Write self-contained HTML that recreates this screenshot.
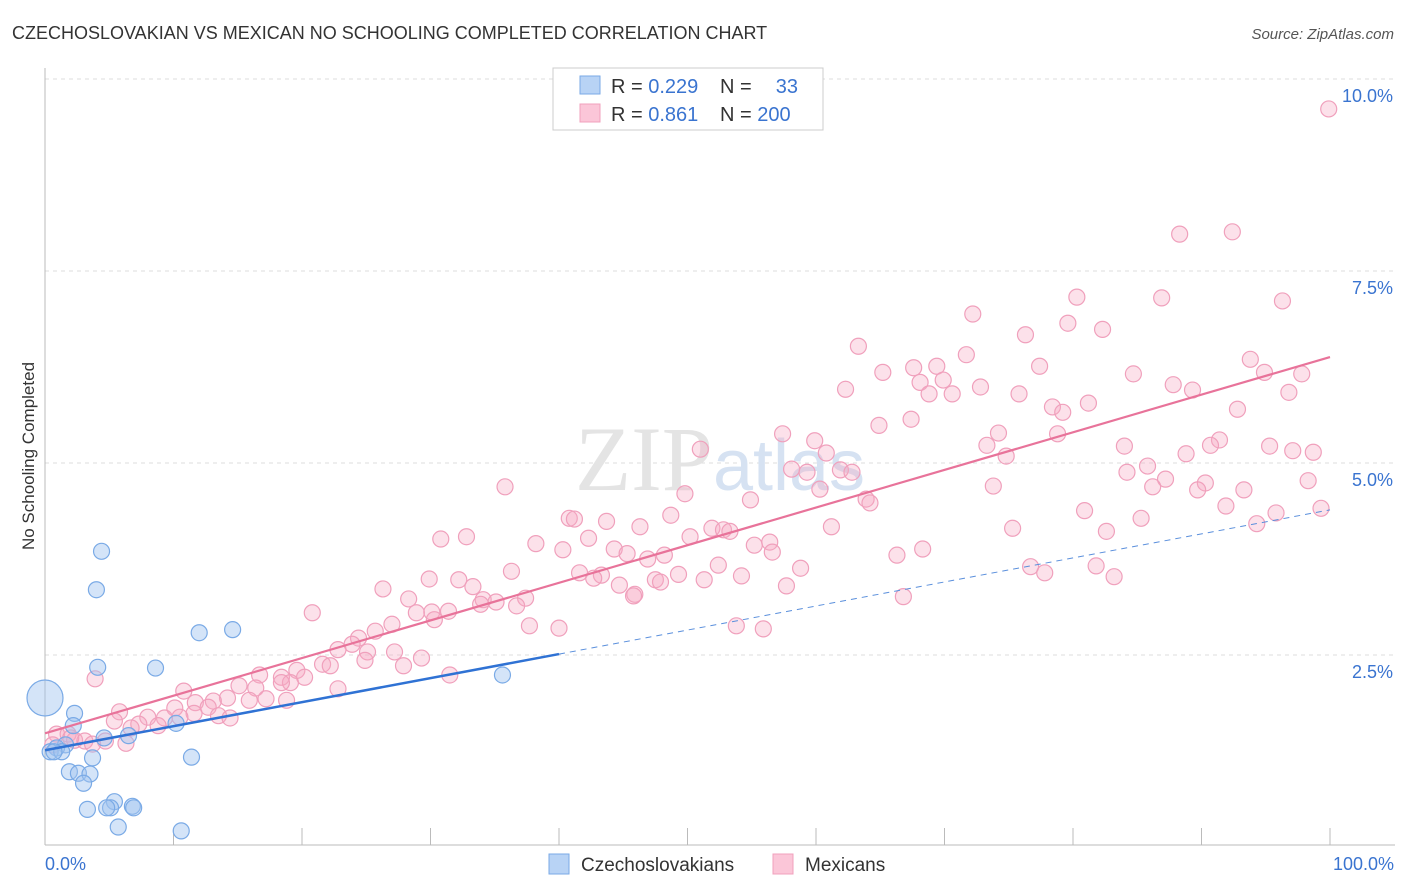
<!DOCTYPE html>
<html><head><meta charset="utf-8"><style>
body{margin:0;background:#fff;font-family:"Liberation Sans",sans-serif;}
svg{display:block}
</style></head><body>
<svg id="chart" width="1406" height="892" viewBox="0 0 1406 892" xmlns="http://www.w3.org/2000/svg">
<text x="12" y="39" font-size="18" fill="#333" font-family="Liberation Sans, sans-serif">CZECHOSLOVAKIAN VS MEXICAN NO SCHOOLING COMPLETED CORRELATION CHART</text>
<text x="1394" y="39" font-size="15" fill="#555" font-style="italic" text-anchor="end">Source: ZipAtlas.com</text>
<g id="grid"></g>
<text x="720" y="490" font-size="92" fill="#e4e4e4" text-anchor="middle" font-family="Liberation Serif, serif">ZIP<tspan fill="#d6e2f2" font-family="Liberation Sans, sans-serif" font-size="72">atlas</tspan></text>
<g id="axes"></g>
<g id="pts"></g>
<g id="lines"></g>
<text transform="translate(34,456) rotate(-90)" font-size="17" fill="#333" text-anchor="middle">No Schooling Completed</text>
<g>
<rect x="553" y="68" width="270" height="62" fill="#fff" stroke="#ccc"/>
<rect x="580" y="76" width="20" height="18" fill="#b8d3f5" stroke="#7aaae6"/>
<rect x="580" y="104" width="20" height="18" fill="#fbc6d8" stroke="#f0a0bc"/>
<text x="611" y="93" font-size="20" fill="#333">R = <tspan fill="#3a74d0">0.229</tspan></text>
<text x="720" y="93" font-size="20" fill="#333">N = </text><text x="798" y="93" font-size="20" fill="#3a74d0" text-anchor="end">33</text>
<text x="611" y="121" font-size="20" fill="#333">R =  <tspan fill="#3a74d0">0.861</tspan></text>
<text x="720" y="121" font-size="20" fill="#333">N = <tspan fill="#3a74d0">200</tspan></text>
</g>
<g>
<rect x="549" y="854" width="20" height="20" fill="#b8d3f5" stroke="#7aaae6"/>
<text x="581" y="871" font-size="19" fill="#333">Czechoslovakians</text>
<rect x="773" y="854" width="20" height="20" fill="#fbc6d8" stroke="#f0a0bc"/>
<text x="805" y="871" font-size="19" fill="#333">Mexicans</text>
</g>
</svg>
<script>
const mexX=[99.9,88.3,92.4,80.3,86.9,96.3,72.2,79.6,82.3,76.3,63.3,71.7,93.8,65.2,67.6,69.4,77.4,94.9,97.8,68.1,69.9,84.7,62.3,72.8,87.8,89.3,68.8,70.6,75.8,96.8,78.4,81.2,79.2,92.8,67.4,64.9,57.4,74.2,78.8,91.4,90.7,59.9,73.3,84.0,95.3,51.0,60.8,74.8,88.8,98.7,97.1,58.1,59.3,61.9,62.8,85.8,84.2,87.2,35.8,60.3,73.8,86.2,90.3,89.7,93.3,98.3,49.8,54.9,63.9,64.2,91.9,80.9,99.3,48.7,95.8,85.3,94.3,40.8,41.2,43.7,46.3,61.2,51.9,52.8,53.3,75.3,82.6,30.8,32.8,50.2,38.2,42.3,40.3,55.2,56.4,44.3,45.3,48.2,56.6,46.9,66.3,68.3,52.4,58.8,76.7,77.8,81.8,83.2,36.3,41.6,43.3,42.7,49.3,54.2,29.9,32.2,47.5,47.9,51.3,26.3,33.3,57.7,44.7,28.3,34.1,35.1,37.4,33.9,45.9,45.8,66.8,36.7,30.1,31.4,28.9,20.8,30.3,27.0,37.7,40.0,53.8,55.9,25.7,24.4,23.9,22.8,25.1,27.2,29.3,24.9,21.6,22.2,19.6,27.9,31.5,16.7,18.4,20.2,19.1,15.1,16.4,18.4,3.9,10.8,22.8,14.2,15.9,13.1,17.2,11.7,18.8,10.1,12.7,5.8,11.6,13.5,14.4,8.0,9.3,10.5,5.4,7.3,6.7,8.8,0.9,1.8,2.3,3.1,4.7,3.7,0.6,6.3,2.0];
const mexY=[9.61,7.98,8.01,7.16,7.15,7.11,6.94,6.82,6.74,6.67,6.52,6.41,6.35,6.18,6.24,6.26,6.26,6.18,6.16,6.05,6.08,6.16,5.96,5.99,6.02,5.95,5.90,5.90,5.90,5.92,5.73,5.78,5.66,5.70,5.57,5.49,5.38,5.39,5.38,5.30,5.23,5.29,5.23,5.22,5.22,5.18,5.13,5.09,5.12,5.14,5.16,4.92,4.88,4.91,4.88,4.96,4.88,4.79,4.69,4.66,4.70,4.69,4.74,4.65,4.65,4.77,4.60,4.52,4.53,4.48,4.44,4.38,4.41,4.32,4.35,4.28,4.21,4.28,4.27,4.24,4.17,4.17,4.15,4.13,4.11,4.15,4.11,4.01,4.04,4.04,3.95,4.02,3.87,3.93,3.97,3.88,3.82,3.80,3.84,3.75,3.80,3.88,3.67,3.63,3.65,3.57,3.66,3.52,3.59,3.57,3.54,3.50,3.55,3.53,3.49,3.48,3.48,3.45,3.48,3.36,3.39,3.40,3.41,3.23,3.22,3.19,3.24,3.16,3.29,3.27,3.26,3.14,3.06,3.07,3.05,3.05,2.96,2.90,2.88,2.85,2.88,2.84,2.81,2.72,2.64,2.57,2.54,2.54,2.46,2.43,2.38,2.36,2.30,2.36,2.24,2.24,2.21,2.21,2.14,2.10,2.07,2.14,2.19,2.03,2.06,1.94,1.91,1.90,1.93,1.88,1.91,1.81,1.82,1.76,1.74,1.71,1.68,1.69,1.68,1.69,1.64,1.60,1.55,1.58,1.47,1.47,1.39,1.38,1.38,1.34,1.33,1.35,1.42];
const czX=[4.4,4.0,12.0,14.6,4.1,8.6,35.6,0,2.3,2.2,10.2,4.6,6.5,1.6,0.9,0.4,1.3,0.7,3.7,11.4,1.9,2.6,3.5,3.0,5.4,5.1,3.3,4.8,6.8,6.9,5.7,10.6];
const czY=[3.85,3.35,2.79,2.83,2.34,2.33,2.24,1.94,1.74,1.58,1.61,1.42,1.45,1.33,1.29,1.24,1.24,1.24,1.16,1.17,0.98,0.96,0.95,0.83,0.59,0.51,0.49,0.51,0.53,0.51,0.26,0.21];
const czR=[8,8,8,8,8,8,8,18,8,8,8,8,8,8,8,8,8,8,8,8,8,8,8,8,8,8,8,8,8,8,8,8];
const yTicks=[2.5,5.0,7.5,10.0];
const yTickLabels=["2.5%","5.0%","7.5%","10.0%"];
const mexTrend=[1.48,6.38];
const czTrend=[1.26,4.39];
const czSolidEnd=40;
const NS="http://www.w3.org/2000/svg";
const X=v=>45+v*12.85, Y=v=>847-v*76.8;
function mk(p,t,a){const e=document.createElementNS(NS,t);for(const k in a)e.setAttribute(k,a[k]);p.appendChild(e);return e;}
const grid=document.getElementById('grid'),axes=document.getElementById('axes'),pts=document.getElementById('pts'),lines=document.getElementById('lines');
yTicks.forEach((t,i)=>{
 const l=mk(grid,'line',{x1:45,x2:1395,y1:Y(t),y2:Y(t),stroke:'#ddd','stroke-dasharray':'4,4'});
 
 
 const tx=mk(grid,'text',{x:1393,y:Y(t)+23,'font-size':18,fill:'#3a74d0','text-anchor':'end'});
 tx.textContent=yTickLabels[i];
 
 
});
mk(axes,'line',{x1:45,x2:45,y1:68,y2:845,stroke:'#bbb'});
mk(axes,'line',{x1:45,x2:1395,y1:845,y2:845,stroke:'#bbb'});
for(let i=0;i<=10;i++){mk(axes,'line',{x1:X(i*10),x2:X(i*10),y1:828,y2:845,stroke:'#bbb'});}
const xl=mk(axes,'text',{x:45,y:870,'font-size':18,fill:'#3a74d0'});xl.textContent='0.0%';


const xr=mk(axes,'text',{x:1394,y:870,'font-size':18,fill:'#3a74d0','text-anchor':'end'});xr.textContent='100.0%';


mexX.forEach((v,i)=>{
 const c=mk(pts,'circle',{cx:X(v),cy:Y(mexY[i]),r:8,fill:'rgba(246,168,196,0.35)',stroke:'#f0a0bc','stroke-width':1.2});
 
 
});
czX.forEach((v,i)=>{
 const c=mk(pts,'circle',{cx:X(v),cy:Y(czY[i]),r:czR[i],fill:'rgba(160,196,240,0.45)',stroke:'#7aaae6','stroke-width':1.2});
 
 
});
const cz=x=>czTrend[0]+(czTrend[1]-czTrend[0])*x/100;
const a=mk(lines,'line',{x1:X(czSolidEnd),y1:Y(cz(czSolidEnd)),x2:X(100),y2:Y(cz(100)),stroke:'#5a8fdc','stroke-width':1,'stroke-dasharray':'6,5'});


const b=mk(lines,'line',{x1:X(0),y1:Y(cz(0)),x2:X(czSolidEnd),y2:Y(cz(czSolidEnd)),stroke:'#2f72d4','stroke-width':2.5});


const m=mk(lines,'line',{x1:X(0),y1:Y(mexTrend[0]),x2:X(100),y2:Y(mexTrend[1]),stroke:'#e8739a','stroke-width':2.2});


</script>
</body></html>
